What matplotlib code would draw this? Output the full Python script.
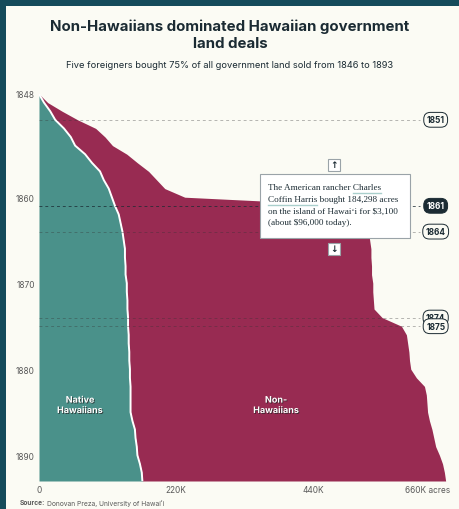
# cumulative government land sales in Hawai'i, 1848-1893

import numpy as np
import matplotlib.pyplot as plt
import matplotlib.patheffects as pe
from matplotlib.patches import Rectangle

years = list(range(1848, 1894))

# cumulative acres bought, thousands
native_k = [0, 8, 18, 26, 40, 51, 58, 74, 85, 98, 104, 112, 117, 122, 128, 131,
            134, 136, 138, 138, 139, 139, 141, 141, 142, 142, 143, 143, 144, 144,
            145, 145, 146, 146, 147, 147, 147, 147, 150, 154, 155, 157, 158, 162,
            165, 166]
non_native_k = [0, 6, 19, 36, 51, 55, 60, 67, 73, 78, 85, 90, 117, 395, 395, 395,
                395, 395, 395, 395, 395, 395, 395, 395, 395, 396, 408, 439, 446, 448,
                449, 450, 451, 460, 472, 475, 476, 477, 477, 477, 479, 480, 485, 486,
                486, 487]

marked_years = [1851, 1861, 1864, 1874, 1875]
active_year = 1861

x_ticks = [0, 220, 440, 660]
x_labels = ['0', '220K', '440K', '660K acres']
y_ticks = [1848, 1860, 1870, 1880, 1890]

BG = '#fbfbf4'
BORDER = '#154b5b'
TEAL = '#4a918a'
MAROON = '#982b52'
INK = '#1b2b33'
GREY = '#5a5a5a'
SANS = ['Inter', 'DejaVu Sans']
SERIF = ['Liberation Serif', 'DejaVu Serif']

W, H = 460, 510


def fx(x):
    return x / W


def fy(y):
    return 1 - y / H


fig = plt.figure(figsize=(4.6, 5.1), dpi=100, facecolor=BG)
r = fig.canvas.get_renderer()

# dark frame on the left and top
fig.add_artist(Rectangle((0, 0), fx(6), 1, transform=fig.transFigure, color=BORDER, lw=0))
fig.add_artist(Rectangle((0, fy(7)), 1, 7 / H, transform=fig.transFigure, color=BORDER, lw=0))

fig.text(0.5, fy(35), 'Non-Hawaiians dominated Hawaiian government\nland deals',
         ha='center', va='center', fontsize=10.8, fontweight='bold', color=INK,
         family=SANS, linespacing=1.3)
fig.text(0.5, fy(65), 'Five foreigners bought 75% of all government land sold from 1846 to 1893',
         ha='center', va='center', fontsize=6.7, color=INK, family=SANS)

ax = fig.add_axes([fx(39), fy(482), 411 / W, (482 - 95) / H])
ax.set_facecolor(BG)

yrs = np.array(years)
native = np.array(native_k)
total = native + np.array(non_native_k)

ax.fill_betweenx(yrs, 0, native, color=TEAL, lw=0, zorder=1)
ax.fill_betweenx(yrs, native, total, color=MAROON, lw=0, zorder=1)
ax.plot(native, yrs, color='white', lw=1.4, zorder=2, solid_capstyle='round')

# dashed guides for the marked years
for yr in marked_years:
    if yr == active_year:
        ax.plot([0, 612], [yr, yr], ls=(0, (3, 3)), color=INK, alpha=0.75, lw=0.7, zorder=3)
    else:
        ax.plot([0, 612], [yr, yr], ls=(0, (3, 3)), color='#333333', alpha=0.35, lw=0.7, zorder=3)

for yr in marked_years:
    if yr == active_year:
        fc, tc = INK, 'white'
    else:
        fc, tc = BG, INK
    ax.text(637, yr, str(yr), ha='center', va='center', fontsize=6, fontweight='bold',
            color=tc, family=SANS, zorder=5,
            bbox=dict(boxstyle='round,pad=0.35,rounding_size=0.8', fc=fc, ec=INK, lw=0.7))

shadow = [pe.withSimplePatchShadow(offset=(0.6, -0.6), shadow_rgbFace='#222222', alpha=0.8)]
ax.text(66, 1884.2, 'Native\nHawaiians', ha='center', va='center', fontsize=6.5,
        fontweight='bold', color='white', family=SANS, zorder=4, path_effects=shadow)
ax.text(381, 1884.2, 'Non-\nHawaiians', ha='center', va='center', fontsize=6.5,
        fontweight='bold', color='white', family=SANS, zorder=4, path_effects=shadow)

ax.set_xlim(0, 660)
ax.set_ylim(1893, 1848)
ax.set_xticks(x_ticks)
ax.set_xticklabels(x_labels)
ax.get_xticklabels()[-1].set_horizontalalignment('right')
ax.set_yticks(y_ticks)
ax.set_yticklabels([str(y) for y in y_ticks])
ax.tick_params(length=0, labelsize=6, labelcolor=GREY)
ax.tick_params(axis='x', pad=3)
ax.tick_params(axis='y', pad=3)
for lab in ax.get_xticklabels() + ax.get_yticklabels():
    lab.set_family(SANS)
for s in ax.spines.values():
    s.set_visible(False)

# tooltip for the 1861 purchase
fig.add_artist(Rectangle((fx(260), fy(239)), 150 / W, 64 / H, transform=fig.transFigure,
                         fc='white', ec='#9aa3a8', lw=0.8, zorder=10))
lines = ['The American rancher Charles',
         'Coffin Harris bought 184,298 acres',
         'on the island of Hawaiʻi for $3,100',
         '(about $96,000 today).']
line_y = [188, 200, 212, 223]
tip_size = 6.6
txts = []
for s, ly in zip(lines, line_y):
    t = fig.text(fx(268), fy(ly), s, ha='left', va='center', fontsize=tip_size,
                 color=INK, family=SERIF, zorder=11)
    txts.append(t)

tmp = fig.text(0, 0, 'Charles', fontsize=tip_size, family=SERIF)
w_charles = tmp.get_window_extent(r).width
tmp.set_text('Coffin Harris')
w_coffin = tmp.get_window_extent(r).width
tmp.remove()
e1 = txts[0].get_window_extent(r)
e2 = txts[1].get_window_extent(r)
ul = '#a9cfcc'
fig.add_artist(plt.Line2D([(e1.x1 - w_charles) / W, e1.x1 / W], [fy(194), fy(194)],
                          transform=fig.transFigure, color=ul, lw=1, zorder=11))
fig.add_artist(plt.Line2D([e2.x0 / W, (e2.x0 + w_coffin) / W], [fy(206), fy(206)],
                          transform=fig.transFigure, color=ul, lw=1, zorder=11))

# step arrows above and below the tooltip
for cy, sym in [(166, '↑'), (250, '↓')]:
    fig.add_artist(Rectangle((fx(328), fy(cy + 6)), 12 / W, 12 / H, transform=fig.transFigure,
                             fc='white', ec='#9aa3a8', lw=0.8, zorder=10))
    fig.text(fx(334), fy(cy), sym, ha='center', va='center', fontsize=6.5,
             fontweight='bold', color=INK, zorder=11)

src = fig.text(fx(20), fy(503), 'Source:', ha='left', va='center', fontsize=4.8,
               fontweight='bold', color=GREY, family=SANS)
src_end = src.get_window_extent(r).x1
fig.text((src_end + 2) / W, fy(503), 'Donovan Preza, University of Hawaiʻi', ha='left',
         va='center', fontsize=4.8, color=GREY, family=SANS)

fig.savefig('out.png', dpi=100, facecolor=BG)
